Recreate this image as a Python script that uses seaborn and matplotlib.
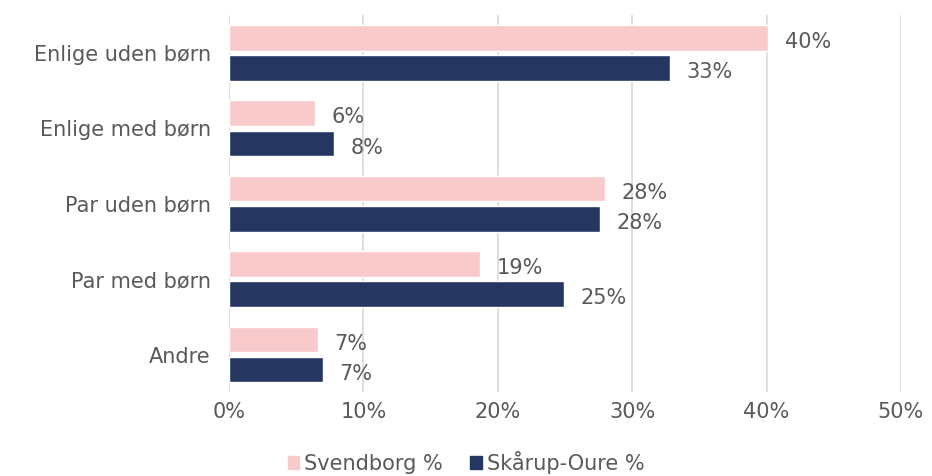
import numpy as np
import pandas as pd
import matplotlib
matplotlib.use("Agg")
import matplotlib.pyplot as plt
import seaborn as sns

# ---- data ----
categories = ["Enlige uden børn", "Enlige med børn", "Par uden børn", "Par med børn", "Andre"]
svendborg = [40.1, 6.4, 28.0, 18.7, 6.6]
skaarup = [32.8, 7.8, 27.6, 24.9, 7.0]
series_names = ["Svendborg %", "Skårup-Oure %"]
xticks = [0, 10, 20, 30, 40, 50]

df = pd.DataFrame({
    "kategori": categories * 2,
    "andel": svendborg + skaarup,
    "serie": [series_names[0]] * len(categories) + [series_names[1]] * len(categories),
})

TXT = "#595959"
FS = 15
colors = {series_names[0]: "#F9CACB", series_names[1]: "#253660"}

sns.set_theme(style="white")
plt.rcParams["font.family"] = ["DejaVu Sans"]

fig = plt.figure(figsize=(9.32, 4.76), dpi=100)
ax = fig.add_axes([0.2457, 0.176, 0.721, 0.792])

sns.barplot(data=df, y="kategori", x="andel", hue="serie", orient="h",
            palette=colors, saturation=1, width=0.8, gap=0.15, ax=ax, legend=False)

for cont in ax.containers:
    txts = ax.bar_label(cont, labels=[f"{v:.0f}%" for v in cont.datavalues],
                        padding=12, fontsize=FS, color=TXT)
    # labels sit a few pixels below bar centre in the reference
    for t in txts:
        t.set_position((t.get_position()[0], -3))

ax.set_xlim(0, 50)
ax.set_xticks(xticks)
ax.set_xticklabels([f"{t}%" for t in xticks], fontsize=FS, color=TXT)
ax.tick_params(axis="y", labelsize=FS, labelcolor=TXT, length=0, pad=13)
ax.tick_params(axis="x", length=0, pad=7)
ax.set_xlabel("")
ax.set_ylabel("")
ax.grid(axis="x", color="#D9D9D9", linewidth=1.2)
ax.set_axisbelow(True)
for s in ax.spines.values():
    s.set_visible(False)

handles = [plt.Rectangle((0, 0), 1, 1, color=colors[n]) for n in series_names]
fig.legend(handles, series_names, loc="lower center", bbox_to_anchor=(0.5, -0.035),
           ncol=2, frameon=False, fontsize=FS, labelcolor=TXT,
           handlelength=0.55, handleheight=0.55, handletextpad=0.25, columnspacing=1.3)

fig.savefig("out.png", dpi=100)
